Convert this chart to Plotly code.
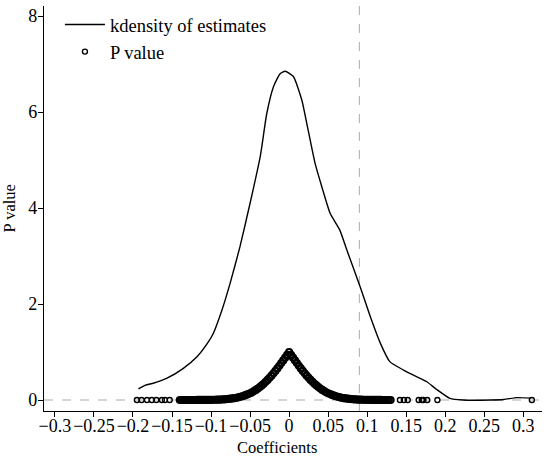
import plotly.graph_objects as go

# kernel density of the estimates
kd_x = [-0.193, -0.184, -0.174, -0.157, -0.1355, -0.118, -0.103, -0.097, -0.086,
        -0.0756, -0.063, -0.050, -0.037, -0.0286, -0.020, -0.0115, -0.005,
        0.0055, 0.0163, 0.0227, 0.0333, 0.042, 0.0526, 0.065, 0.074, 0.091,
        0.104, 0.117, 0.129, 0.1465, 0.168, 0.1765, 0.189, 0.206, 0.223,
        0.258, 0.275, 0.292, 0.309]
kd_y = [0.23, 0.31, 0.35, 0.45, 0.66, 0.90, 1.22, 1.39, 1.875,
        2.43, 3.19, 4.10, 5.07, 5.97, 6.53, 6.80, 6.85,
        6.74, 6.25, 5.76, 4.93, 4.44, 3.89, 3.54, 3.125, 2.36,
        1.74, 1.18, 0.80, 0.625, 0.45, 0.38, 0.22, 0.035, 0.0,
        0.0, 0.01, 0.05, 0.04]

# p values: the dense band of estimates
band_x = [-0.1400, -0.1375, -0.1350, -0.1325, -0.1300, -0.1275, -0.1250, -0.1225,
          -0.1200, -0.1175, -0.1150, -0.1125, -0.1100, -0.1075, -0.1050, -0.1025,
          -0.1000, -0.0975, -0.0950, -0.0925, -0.0900, -0.0875, -0.0850, -0.0825,
          -0.0800, -0.0775, -0.0750, -0.0725, -0.0700, -0.0675, -0.0650, -0.0625,
          -0.0600, -0.0575, -0.0550, -0.0525, -0.0500, -0.0475, -0.0450, -0.0425,
          -0.0400, -0.0375, -0.0350, -0.0325, -0.0300, -0.0275, -0.0250, -0.0225,
          -0.0200, -0.0175, -0.0150, -0.0125, -0.0100, -0.0075, -0.0050, -0.0025,
          0.0000, 0.0025, 0.0050, 0.0075, 0.0100, 0.0125, 0.0150, 0.0175,
          0.0200, 0.0225, 0.0250, 0.0275, 0.0300, 0.0325, 0.0350, 0.0375,
          0.0400, 0.0425, 0.0450, 0.0475, 0.0500, 0.0525, 0.0550, 0.0575,
          0.0600, 0.0625, 0.0650, 0.0675, 0.0700, 0.0725, 0.0750, 0.0775,
          0.0800, 0.0825, 0.0850, 0.0875, 0.0900, 0.0925, 0.0950, 0.0975,
          0.1000, 0.1025, 0.1050, 0.1075, 0.1100, 0.1125, 0.1150, 0.1175,
          0.1200, 0.1225, 0.1250, 0.1275, 0.1300]
band_y = [0.000, 0.000, 0.000, 0.000, 0.000, 0.000, 0.000, 0.000,
          0.000, 0.001, 0.001, 0.001, 0.001, 0.002, 0.002, 0.003,
          0.003, 0.004, 0.005, 0.007, 0.008, 0.010, 0.012, 0.015,
          0.019, 0.023, 0.027, 0.033, 0.039, 0.047, 0.056, 0.066,
          0.078, 0.091, 0.106, 0.123, 0.141, 0.162, 0.186, 0.211,
          0.240, 0.270, 0.303, 0.339, 0.378, 0.419, 0.462, 0.508,
          0.556, 0.607, 0.659, 0.713, 0.769, 0.825, 0.883, 0.941,
          1.000, 0.941, 0.883, 0.825, 0.769, 0.713, 0.659, 0.607,
          0.556, 0.508, 0.462, 0.419, 0.378, 0.339, 0.303, 0.270,
          0.240, 0.211, 0.186, 0.162, 0.141, 0.123, 0.106, 0.091,
          0.078, 0.066, 0.056, 0.047, 0.039, 0.033, 0.027, 0.023,
          0.019, 0.015, 0.012, 0.010, 0.008, 0.007, 0.005, 0.004,
          0.003, 0.003, 0.002, 0.002, 0.001, 0.001, 0.001, 0.001,
          0.000, 0.000, 0.000, 0.000, 0.000]

# p values: scattered outlying estimates
out_x = [-0.195, -0.189, -0.182, -0.176, -0.170, -0.163, -0.159, -0.153,
         0.142, 0.147, 0.152, 0.166, 0.170, 0.172, 0.177, 0.190, 0.311]
out_y = [0.0, 0.0, 0.0, 0.0, 0.0, 0.0, 0.0, 0.0,
         0.0, 0.0, 0.0, 0.0, 0.0, 0.0, 0.0, 0.0, 0.0]

x_ticks = [-0.3, -0.25, -0.2, -0.15, -0.1, -0.05, 0, 0.05, 0.1, 0.15, 0.2, 0.25, 0.3]
x_ticklabels = ["\u22120.3", "\u22120.25", "\u22120.2", "\u22120.15", "\u22120.1", "\u22120.05",
                "0", "0.05", "0.1", "0.15", "0.2", "0.25", "0.3"]
y_ticks = [0, 2, 4, 6, 8]
cutoff = 0.09

font = "Liberation Serif, Times New Roman, serif"

fig = go.Figure()
fig.add_trace(go.Scatter(x=kd_x, y=kd_y, mode="lines", name="kdensity of estimates",
                         line=dict(color="black", width=1.4, shape="spline", smoothing=0.5)))
fig.add_trace(go.Scatter(x=band_x, y=band_y, mode="markers", showlegend=False,
                         marker=dict(symbol="circle-open", size=6, color="black",
                                     line=dict(width=2.2, color="black"))))
fig.add_trace(go.Scatter(x=out_x, y=out_y, mode="markers", name="P value",
                         marker=dict(symbol="circle-open", size=5, color="black",
                                     line=dict(width=1.4, color="black"))))

# reference lines
fig.add_shape(type="line", xref="paper", yref="y", x0=0, x1=1, y0=0, y1=0,
              line=dict(color="#aaaaaa", width=1, dash="dash"), layer="below")
fig.add_shape(type="line", xref="x", yref="paper", x0=cutoff, x1=cutoff, y0=0, y1=1,
              line=dict(color="#aaaaaa", width=1, dash="dash"), layer="below")

fig.add_annotation(text="Coefficients", xref="paper", yref="paper", x=0.468, y=0,
                   xanchor="center", yanchor="middle",
                   yshift=-36, showarrow=False, font=dict(family=font, size=16.5, color="black"))
fig.add_annotation(text="P value", xref="paper", yref="paper", x=0, y=0.5,
                   xanchor="center", yanchor="middle", xshift=-35,
                   textangle=-90, showarrow=False, font=dict(family=font, size=16.5, color="black"))

fig.update_layout(
    width=550, height=461,
    margin=dict(l=44, r=8, t=6, b=50, autoexpand=False),
    paper_bgcolor="white", plot_bgcolor="white",
    font=dict(family=font, size=18, color="black"),
    legend=dict(x=0.032, y=1.0, xanchor="left", yanchor="top", itemwidth=40,
                bgcolor="rgba(0,0,0,0)", font=dict(size=18.5), tracegroupgap=0),
    showlegend=True,
)
fig.update_xaxes(range=[-0.314, 0.324], tickvals=x_ticks, ticktext=x_ticklabels,
                 tickangle=0, automargin=False, ticklabelstandoff=-7,
                 showline=True, linecolor="black", linewidth=1.3, ticks="outside",
                 ticklen=5, tickcolor="black", showgrid=False, zeroline=False)
fig.update_yaxes(range=[-0.229, 8.21], tickvals=y_ticks, automargin=False,
                 ticklabelstandoff=-3,
                 showline=True, linecolor="black",
                 linewidth=1.3, ticks="outside", ticklen=5, tickcolor="black",
                 showgrid=False, zeroline=False)

# drop the page's default body margin so the figure sits at the window corner
fig.write_html("out.html", config={"displayModeBar": False},
               post_script="document.body.style.margin='0';document.body.style.overflow='hidden';")
